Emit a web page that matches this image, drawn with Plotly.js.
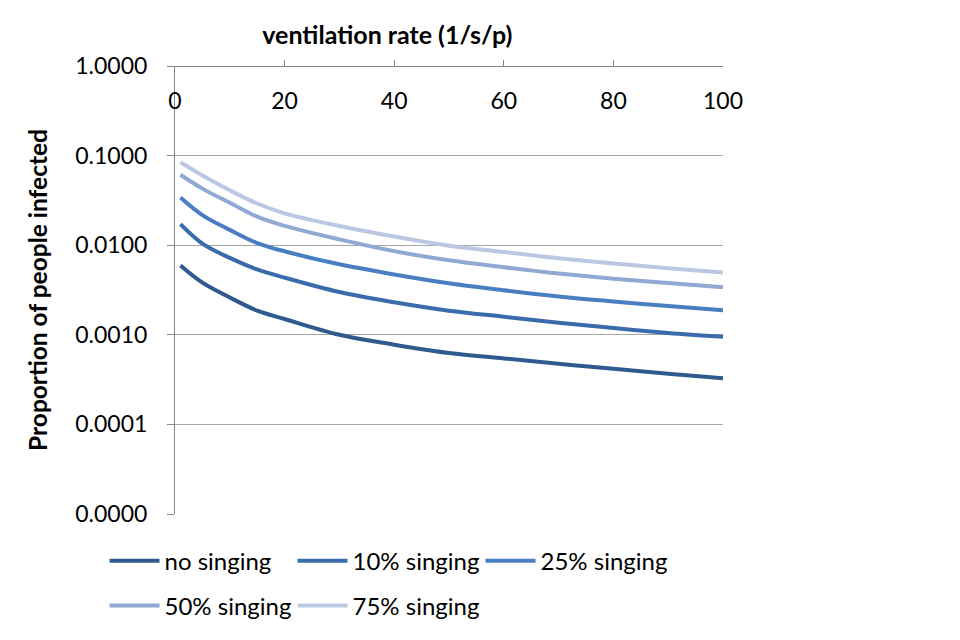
<!DOCTYPE html>
<html>
<head>
<meta charset="utf-8">
<script src="https://cdn.plot.ly/plotly-3.0.1.min.js"></script>
<style>html,body{margin:0;padding:0;background:#fff;}#chart{width:960px;height:640px;}</style>
</head>
<body>
<div id="chart"></div>
<script>
const ventilation = [1, 5, 10, 15, 20, 30, 40, 50, 60, 70, 80, 90, 100];
const noSinging   = [0.00593, 0.00382, 0.00261, 0.00186, 0.00150, 0.00100, 0.000776, 0.000627, 0.000545, 0.000475, 0.000418, 0.000368, 0.000327];
const sing10      = [0.01715, 0.0104, 0.00721, 0.00536, 0.00434, 0.00300, 0.00231, 0.00186, 0.00159, 0.00136, 0.00119, 0.00105, 0.000950];
const sing25      = [0.0341, 0.0217, 0.01483, 0.01057, 0.00855, 0.00612, 0.00472, 0.00376, 0.00314, 0.00268, 0.00236, 0.00209, 0.00188];
const sing50      = [0.0611, 0.0428, 0.0297, 0.0208, 0.0164, 0.0116, 0.00858, 0.00679, 0.00569, 0.00484, 0.00423, 0.00379, 0.00339];
const sing75      = [0.0844, 0.0601, 0.0410, 0.0292, 0.0227, 0.0164, 0.01252, 0.00987, 0.00841, 0.00715, 0.00625, 0.00554, 0.00497];
const seriesNames = ['no singing', '10% singing', '25% singing', '50% singing', '75% singing'];
const xTicks = [0, 20, 40, 60, 80, 100];
const yTickVals = [0.00001, 0.0001, 0.001, 0.01, 0.1, 1];
const yTickText = ['0.0000', '0.0001', '0.0010', '0.0100', '0.1000', '1.0000'];

const colors = ['#2F5A8E', '#3A6BAA', '#4A7EC2', '#8FA9D3', '#BAC8E3'];
const allSeries = [noSinging, sing10, sing25, sing50, sing75];
const legendIds = ['legend', 'legend', 'legend', 'legend2', 'legend2'];
const FONT = 'Lato, "Open Sans", sans-serif';

const traces = allSeries.map((ys, i) => ({
  type: 'scatter', mode: 'lines', x: ventilation, y: ys, name: seriesNames[i],
  line: {color: colors[i], width: 4, shape: 'spline', smoothing: 1},
  legend: legendIds[i], hoverinfo: 'skip'
}));

const legendBase = {
  orientation: 'h', x: -0.1286, xanchor: 'left', yanchor: 'top',
  font: {family: FONT, size: 24, color: '#000'}, itemwidth: 50,
  entrywidth: 123, entrywidthmode: 'pixels', bgcolor: 'rgba(0,0,0,0)'
};

const layout = {
  width: 960, height: 640,
  margin: {l: 175, r: 237, t: 66, b: 123},
  paper_bgcolor: '#fff', plot_bgcolor: '#fff',
  font: {family: FONT, color: '#000', size: 22},
  title: {text: '<b>ventilation rate (1/s/p)</b>', font: {family: FONT, size: 25, color: '#000'},
          x: 372/960, xanchor: 'center', xref: 'paper', y: 1 - 35/640, yanchor: 'middle', yref: 'container'},
  xaxis: {
    range: [0, 100], tickvals: xTicks, ticktext: xTicks.map(String),
    side: 'bottom', anchor: 'free', position: 1,
    showline: true, linecolor: '#868686', linewidth: 1,
    ticks: 'inside', ticklen: 6, tickcolor: '#868686',
    showgrid: false, zeroline: false,
    ticklabelstandoff: 14,
    tickfont: {family: FONT, size: 23, color: '#000'}
  },
  yaxis: {
    type: 'log', range: [-5, 0],
    tickvals: yTickVals, ticktext: yTickText,
    showline: true, linecolor: '#868686', linewidth: 1,
    ticks: 'outside', ticklen: 7, tickcolor: '#868686',
    showgrid: true, gridcolor: '#A6A6A6', gridwidth: 1, zeroline: false,
    ticklabelstandoff: 15,
    tickfont: {family: FONT, size: 23, color: '#000'},
    title: {text: '<b>Proportion of people infected</b>', font: {family: FONT, size: 24.5, color: '#000'}, standoff: 20}
  },
  legend: Object.assign({}, legendBase, {y: -0.055}),
  legend2: Object.assign({}, legendBase, {y: -0.155}),
  showlegend: true
};

Plotly.newPlot('chart', traces, layout, {displayModeBar: false, staticPlot: true});
</script>
</body>
</html>
